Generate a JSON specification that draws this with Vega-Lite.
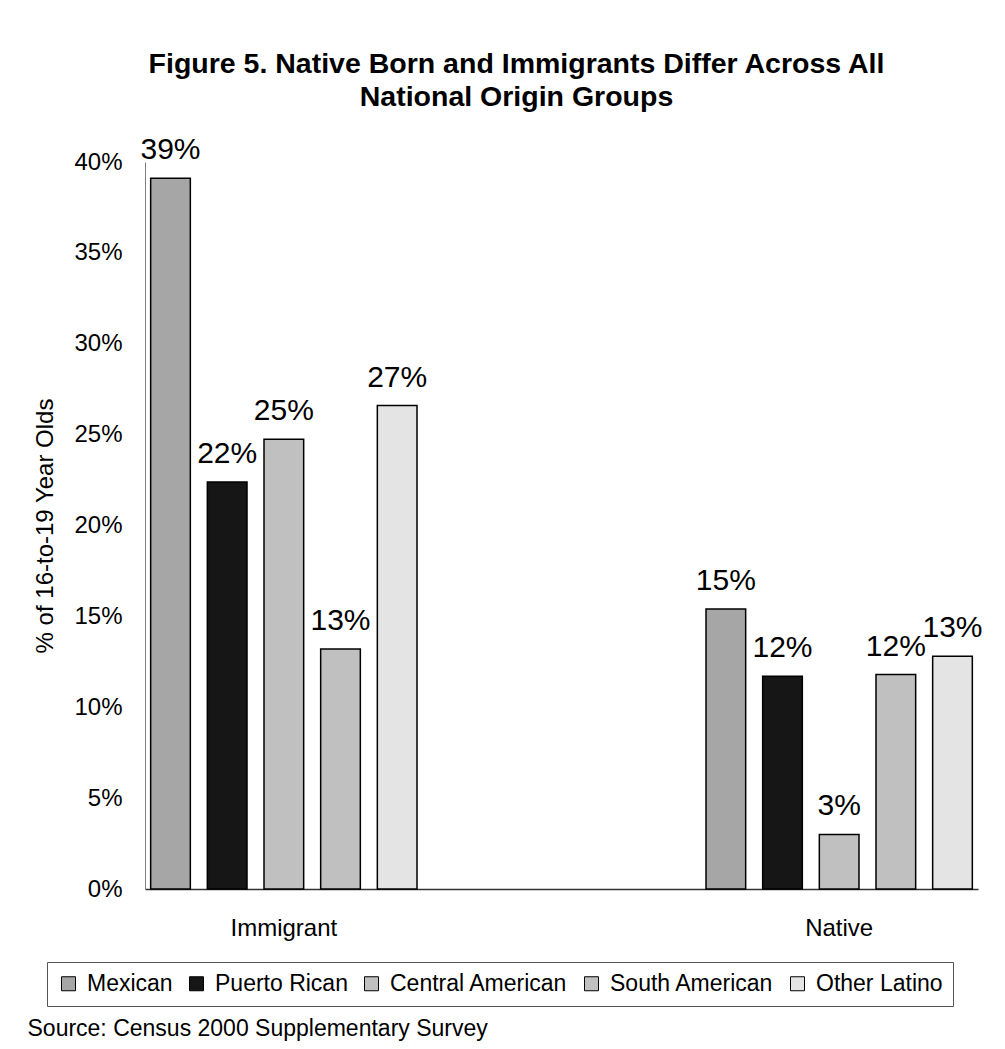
{
  "$schema": "https://vega.github.io/schema/vega-lite/v6.json",
  "width": 833,
  "height": 727,
  "autosize": "none",
  "padding": {"left": 145, "top": 162, "right": 27, "bottom": 160},
  "background": "white",
  "title": {
    "text": ["Figure 5. Native Born and Immigrants Differ Across All", "National Origin Groups"],
    "font": "Liberation Sans",
    "fontSize": 28.5,
    "fontWeight": "bold",
    "color": "#000000",
    "anchor": "middle",
    "lineHeight": 33,
    "offset": 24,
    "dx": -45
  },
  "data": {
    "values": [
      {"group": "Immigrant", "origin": "Mexican", "value": 0.391},
      {"group": "Immigrant", "origin": "Puerto Rican", "value": 0.224},
      {"group": "Immigrant", "origin": "Central American", "value": 0.2475},
      {"group": "Immigrant", "origin": "South American", "value": 0.132},
      {"group": "Immigrant", "origin": "Other Latino", "value": 0.266},
      {"group": "Native", "origin": "Mexican", "value": 0.154},
      {"group": "Native", "origin": "Puerto Rican", "value": 0.117},
      {"group": "Native", "origin": "Central American", "value": 0.03},
      {"group": "Native", "origin": "South American", "value": 0.118},
      {"group": "Native", "origin": "Other Latino", "value": 0.128}
    ]
  },
  "encoding": {
    "x": {
      "field": "group",
      "type": "nominal",
      "sort": ["Immigrant", "Native"],
      "scale": {"paddingInner": 0.5, "paddingOuter": 0},
      "axis": {
        "title": "Source: Census 2000 Supplementary Survey",
        "titleFont": "Liberation Sans",
        "titleFontSize": 23,
        "titleFontWeight": "normal",
        "titleColor": "#000000",
        "titleAnchor": "start",
        "titleAlign": "left",
        "titleBaseline": "alphabetic",
        "titleX": -118,
        "titleY": 146,
        "labelAngle": 0,
        "labelFont": "Liberation Sans",
        "labelFontSize": 24,
        "labelColor": "#000000",
        "labelPadding": 27,
        "ticks": false,
        "domainColor": "#333333",
        "domainWidth": 1.5
      }
    },
    "xOffset": {
      "field": "origin",
      "type": "nominal",
      "sort": ["Mexican", "Puerto Rican", "Central American", "South American", "Other Latino"],
      "scale": {"paddingInner": 0.3, "paddingOuter": 0.1}
    },
    "y": {
      "field": "value",
      "type": "quantitative",
      "scale": {"domain": [0, 0.4], "nice": false},
      "axis": {
        "title": "% of 16-to-19 Year Olds",
        "titleFont": "Liberation Sans",
        "titleFontSize": 24,
        "titleFontWeight": "normal",
        "titleColor": "#000000",
        "titlePadding": 16,
        "values": [0, 0.05, 0.1, 0.15, 0.2, 0.25, 0.3, 0.35, 0.4],
        "format": ".0%",
        "labelFont": "Liberation Sans",
        "labelFontSize": 24,
        "labelColor": "#000000",
        "labelPadding": 23,
        "ticks": false,
        "grid": false,
        "domainColor": "#808080",
        "domainWidth": 1
      }
    }
  },
  "layer": [
    {
      "mark": {"type": "bar", "stroke": "#000000", "strokeWidth": 1.5},
      "encoding": {
        "color": {
          "field": "origin",
          "type": "nominal",
          "sort": ["Mexican", "Puerto Rican", "Central American", "South American", "Other Latino"],
          "scale": {
            "domain": ["Mexican", "Puerto Rican", "Central American", "South American", "Other Latino"],
            "range": ["#a6a6a6", "#161616", "#c0c0c0", "#c0c0c0", "#e4e4e4"]
          },
          "legend": {
            "title": null,
            "orient": "none",
            "legendX": -98,
            "legendY": 800,
            "direction": "horizontal",
            "columns": 5,
            "columnPadding": 12,
            "symbolType": "square",
            "symbolSize": 196,
            "symbolStrokeColor": "#000000",
            "symbolStrokeWidth": 1,
            "symbolOpacity": 1,
            "labelFont": "Liberation Sans",
            "labelFontSize": 23,
            "labelColor": "#000000",
            "labelOffset": 7,
            "labelLimit": 300,
            "padding": 10,
            "strokeColor": "#555555",
            "fillColor": "#ffffff"
          }
        }
      }
    },
    {
      "mark": {
        "type": "text",
        "font": "Liberation Sans",
        "fontSize": 30,
        "align": "center",
        "baseline": "alphabetic",
        "dy": -19,
        "color": "#000000"
      },
      "encoding": {
        "text": {"field": "value", "type": "quantitative", "format": ".0%"}
      }
    }
  ],
  "config": {
    "view": {"stroke": null}
  }
}
